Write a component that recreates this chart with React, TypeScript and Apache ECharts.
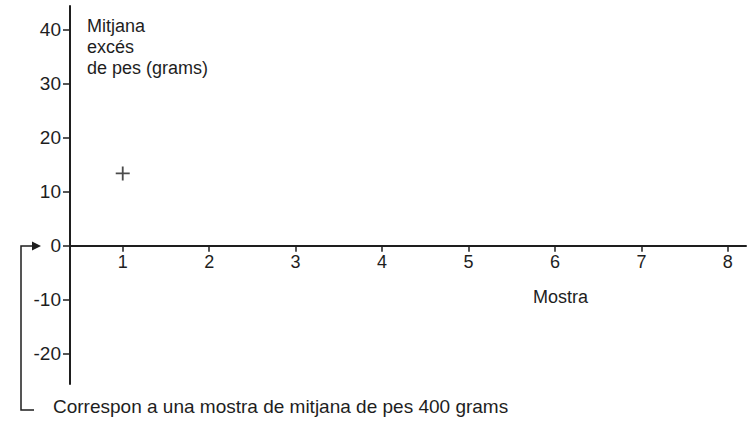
import React, { useEffect, useRef } from "react";
import * as echarts from "echarts";

const xTickValues = [1, 2, 3, 4, 5, 6, 7, 8];
const yTickValues = [-20, -10, 0, 10, 20, 30, 40];
const samples = [1];
const excessWeight = [13.4];
const yAxisTitle = ["Mitjana", "excés", "de pes (grams)"];
const xAxisTitle = "Mostra";
const footnote = "Correspon a una mostra de mitjana de pes 400 grams";

const INK = "#1e1e1e";
const FONT = "'Liberation Sans', Arial, Helvetica, sans-serif";

const GRID_TOP = 6;
const GRID_BOTTOM = 37;
const Y_MIN = -25.6;
const Y_MAX = 44.4;
const PLOT_H = 421 - GRID_TOP - GRID_BOTTOM;
// distance from the bottom of the grid up to the value 0, so the x axis sits on zero
const X_AXIS_OFFSET = -((0 - Y_MIN) / (Y_MAX - Y_MIN)) * PLOT_H;

export default function App() {
  const ref = useRef<HTMLDivElement>(null);
  useEffect(() => {
    if (!ref.current) return;
    const chart = echarts.init(ref.current, null, { renderer: "svg" });
    chart.setOption({
      animation: false,
      backgroundColor: "#ffffff",
      textStyle: { fontFamily: FONT },
      grid: { left: 70, right: 5, top: GRID_TOP, bottom: GRID_BOTTOM },
      xAxis: {
        type: "value",
        min: 0.39,
        max: 8.21,
        position: "bottom",
        offset: X_AXIS_OFFSET,
        splitLine: { show: false },
        axisLine: { onZero: false, lineStyle: { color: INK, width: 2 } },
        axisTick: { show: true, inside: false, length: 6, customValues: xTickValues, lineStyle: { color: INK, width: 1.5 } },
        axisLabel: { customValues: xTickValues, color: INK, fontSize: 18, margin: 7, fontFamily: FONT },
      },
      yAxis: {
        type: "value",
        min: Y_MIN,
        max: Y_MAX,
        splitLine: { show: false },
        axisLine: { show: true, onZero: false, lineStyle: { color: INK, width: 2 } },
        axisTick: { show: true, length: 7, customValues: yTickValues, lineStyle: { color: INK, width: 1.5 } },
        axisLabel: { customValues: yTickValues, color: INK, fontSize: 19, margin: 9, fontFamily: FONT },
      },
      series: [
        {
          type: "scatter",
          data: samples.map((s, i) => [s, excessWeight[i]]),
          symbol: "path://M4.35,0h1.3v4.35h4.35v1.3h-4.35v4.35h-1.3v-4.35h-4.35v-1.3h4.35z",
          symbolSize: 14,
          itemStyle: { color: INK },
        },
      ],
      graphic: [
        {
          type: "text",
          left: 87,
          top: 15,
          style: { text: yAxisTitle.join("\n"), font: `18px ${FONT}`, fill: INK, lineHeight: 21 },
        },
        {
          type: "text",
          left: 533,
          top: 288,
          style: { text: xAxisTitle, font: `18px ${FONT}`, fill: INK },
        },
        {
          type: "text",
          left: 53,
          top: 397,
          style: { text: footnote, font: `19px ${FONT}`, fill: INK },
        },
        {
          type: "polyline",
          shape: { points: [[34, 410], [21, 410], [21, 246], [34, 246]] },
          style: { stroke: INK, lineWidth: 1.5, fill: null },
        },
        {
          type: "polygon",
          shape: { points: [[32, 241.5], [41, 246], [32, 250.5]] },
          style: { fill: INK },
        },
      ],
    });
    return () => chart.dispose();
  }, []);
  return <div ref={ref} style={{ position: "fixed", left: 0, top: 0, width: 751, height: 421 }} />;
}
